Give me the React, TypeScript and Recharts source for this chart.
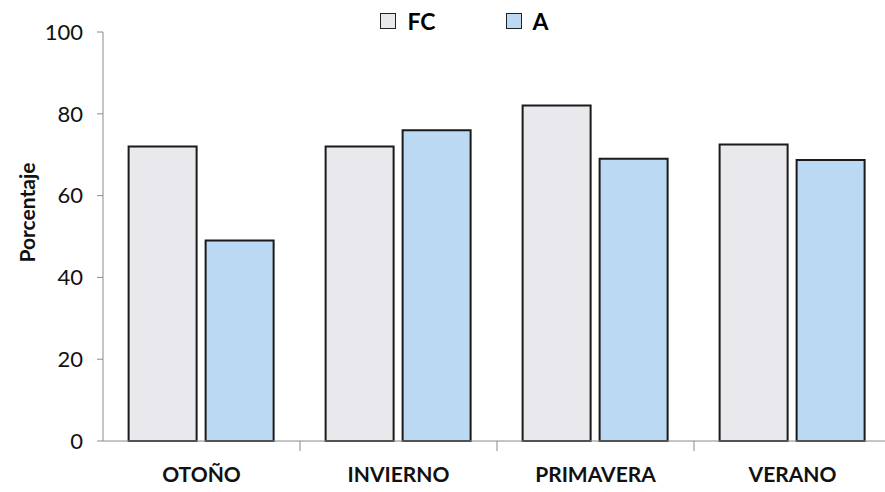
import { BarChart, Bar, XAxis, YAxis, Legend } from 'recharts';

const seasons = ['OTOÑO', 'INVIERNO', 'PRIMAVERA', 'VERANO'];
const fcValues = [72, 72, 82, 72.5];
const aValues = [49, 76, 69, 68.7];
const yTicks = [0, 20, 40, 60, 80, 100];

const FC_FILL = '#e9e9ed';
const A_FILL = '#bcd9f4';
const AXIS_COLOR = '#8a8a8a';
const FONT = 'Lato, "Open Sans", sans-serif';
const X_TICK_SIZE = 10;
const X_TICK_MARGIN = 16;

const data = seasons.map((season, i) => ({
  season,
  FC: fcValues[i],
  A: aValues[i]
}));

const LegendBoxes = () => (
  <div
    style={{
      height: 32,
      boxSizing: 'border-box',
      paddingTop: 9,
      display: 'flex',
      justifyContent: 'center',
      alignItems: 'flex-start',
      gap: 70,
      fontFamily: FONT,
      fontWeight: 700,
      fontSize: 23,
      lineHeight: '24px',
      paddingLeft: 38
    }}
  >
    {[
      { name: 'FC', fill: FC_FILL },
      { name: 'A', fill: A_FILL }
    ].map(item => (
      <div key={item.name} style={{ display: 'flex', alignItems: 'center', gap: 11 }}>
        <span
          style={{
            width: 14,
            height: 14,
            background: item.fill,
            border: '1.5px solid #222',
            display: 'inline-block'
          }}
        />
        <span>{item.name}</span>
      </div>
    ))}
  </div>
);

// rotated axis title, nudged a little above the plot's middle
const AxisTitle = ({ viewBox }: any) => {
  const cx = viewBox.x + 26;
  const cy = viewBox.y + viewBox.height / 2 - 24;
  return (
    <text
      x={cx}
      y={cy}
      transform={`rotate(-90, ${cx}, ${cy})`}
      textAnchor="middle"
      dominantBaseline="central"
      fill="#111"
      fontFamily={FONT}
      fontWeight={700}
      fontSize={21}
    >
      Porcentaje
    </text>
  );
};

// category label plus a tick mark on the left edge of each band
const SeasonTick = ({ x, y, payload }: any) => {
  const edge = x - (payload.offset ?? 0);
  const axisY = y - X_TICK_MARGIN - X_TICK_SIZE;
  return (
    <g>
      {payload.index > 0 && (
        <line x1={edge} x2={edge} y1={axisY} y2={axisY + X_TICK_SIZE} stroke={AXIS_COLOR} />
      )}
      <text
        x={x}
        y={y}
        dy="0.71em"
        textAnchor="middle"
        fill="#111"
        fontFamily={FONT}
        fontWeight={700}
        fontSize={21}
      >
        {payload.value}
      </text>
    </g>
  );
};

export default function App() {
  return (
    <div style={{ position: 'absolute', left: 0, top: 0, width: 885, height: 492, overflow: 'hidden', background: '#fff' }}>
      <BarChart
        width={885}
        height={492}
        data={data}
        margin={{ top: 0, right: -6, bottom: 0, left: 0 }}
        barCategoryGap="13%"
        barGap={9}
      >
        <Legend verticalAlign="top" content={() => <LegendBoxes />} />
        <XAxis
          dataKey="season"
          height={51}
          tickSize={X_TICK_SIZE}
          tickMargin={X_TICK_MARGIN}
          tickLine={{ stroke: 'none' }}
          stroke={AXIS_COLOR}
          tick={<SeasonTick />}
        />
        <YAxis
          domain={[0, 100]}
          ticks={yTicks}
          width={103}
          tickSize={6}
          tickMargin={14}
          stroke={AXIS_COLOR}
          tick={{ fill: '#111', fontFamily: FONT, fontSize: 22 }}
          label={<AxisTitle />}
        />
        <Bar dataKey="FC" fill={FC_FILL} stroke="#1a1a1a" strokeWidth={2} isAnimationActive={false} />
        <Bar dataKey="A" fill={A_FILL} stroke="#1a1a1a" strokeWidth={2} isAnimationActive={false} />
      </BarChart>
    </div>
  );
}
